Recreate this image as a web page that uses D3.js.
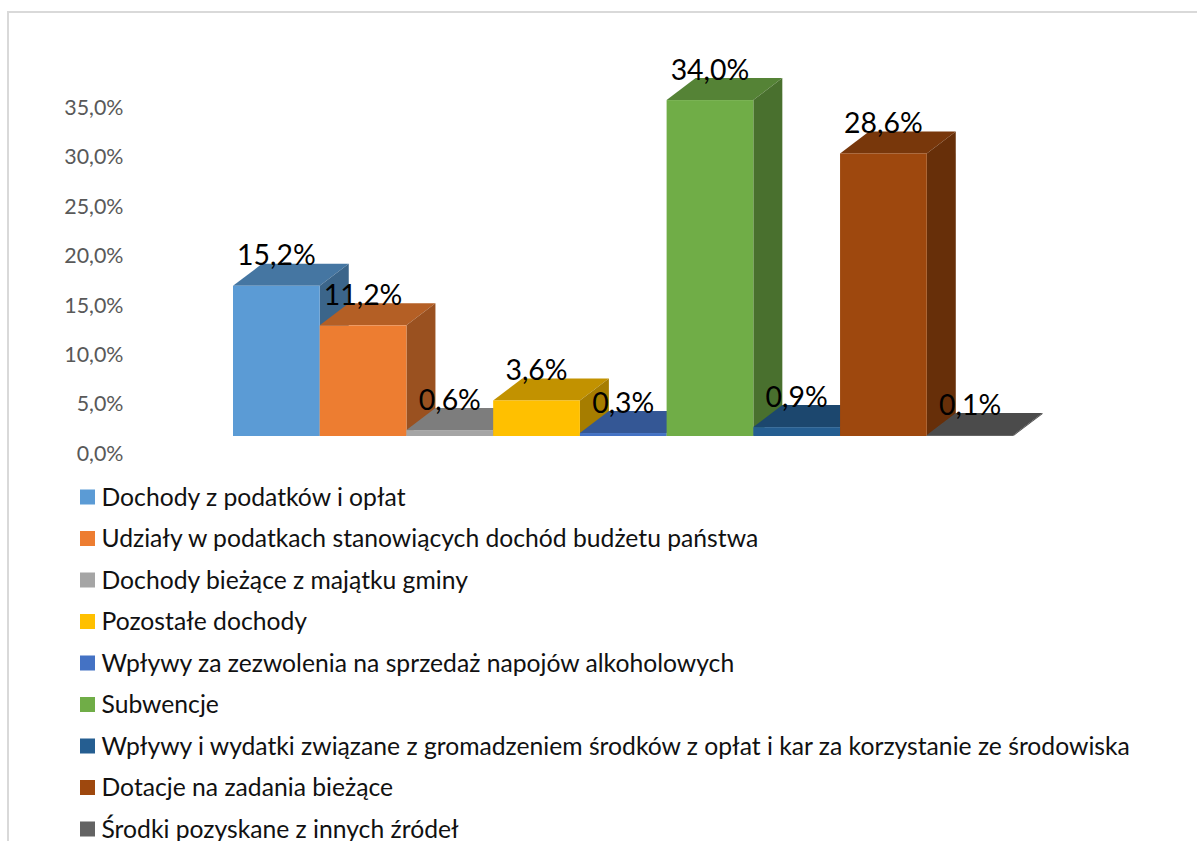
<!DOCTYPE html>
<head>
  <meta charset="utf-8">
  <title>Dochody</title>
  <style>
    html, body { margin: 0; padding: 0; background: #fff; overflow: hidden; }
    svg { display: block; font-family: Lato, sans-serif; }
    .tick text { fill: #595959; font-size: 21.4px; font-family: Lato, sans-serif; }
    .label { fill: #000; font-size: 28.4px; text-anchor: middle; }
    .legend text { fill: #111; font-size: 24.7px; }
  </style>
</head>
<body>
  <div id="chart"></div>
  <script src="https://d3js.org/d3.v7.min.js"></script>
  <script>
    var categories = [
      "Dochody z podatków i opłat",
      "Udziały w podatkach stanowiących dochód budżetu państwa",
      "Dochody bieżące z majątku gminy",
      "Pozostałe dochody",
      "Wpływy za zezwolenia na sprzedaż napojów alkoholowych",
      "Subwencje",
      "Wpływy i wydatki związane z gromadzeniem środków z opłat i kar za korzystanie ze środowiska",
      "Dotacje na zadania bieżące",
      "Środki pozyskane z innych źródeł"
    ];
    var values = [15.2, 11.2, 0.6, 3.6, 0.3, 34.0, 0.9, 28.6, 0.1];
    var colors = ["#5b9bd5", "#ed7d31", "#a5a5a5", "#ffc000", "#4472c4", "#70ad47", "#255e91", "#9e480e", "#636363"];
    var tickValues = [0, 5, 10, 15, 20, 25, 30, 35];
    var tickLabels = ["0,0%", "5,0%", "10,0%", "15,0%", "20,0%", "25,0%", "30,0%", "35,0%"];

    var width = 1197,
        height = 841;

    var depthX = 29,
        depthY = 22;

    var svg = d3.select("#chart")
        .append("svg")
        .attr("width", width)
        .attr("height", height);

    // chart frame, only top and left show in the picture
    svg.append("path")
        .attr("d", "M8,841V12H1197")
        .attr("fill", "none")
        .attr("stroke", "#d9d9d9")
        .attr("stroke-width", 2);

    var x = d3.scaleBand().domain(categories).range([233, 1013.5]);
    var y = d3.scaleLinear().domain([0, 35]).range([436, 90.2]);

    // labels of the axis sit lower than the floor of the bars
    var axis = d3.axisLeft(y)
        .tickValues(tickValues)
        .tickSize(0)
        .tickPadding(0)
        .tickFormat(function(d, i) { return tickLabels[i]; });

    svg.append("g")
        .attr("transform", "translate(123.5,17.5)")
        .call(axis)
        .call(function(g) { g.select(".domain").remove(); });

    function shade(c, k) {
      var r = d3.rgb(c);
      return d3.rgb(r.r * k, r.g * k, r.b * k).formatHex();
    }

    var bars = svg.selectAll(".bar")
        .data(categories)
        .enter().append("g")
        .attr("class", "bar");

    // top
    bars.append("path")
        .attr("fill", function(d, i) { return shade(colors[i], 0.76); })
        .attr("d", function(d, i) {
          var x0 = x(d), x1 = x0 + x.bandwidth(), t = y(values[i]);
          return "M" + x0 + "," + t + "L" + (x0 + depthX) + "," + (t - depthY) +
                 "L" + (x1 + depthX) + "," + (t - depthY) + "L" + x1 + "," + t + "Z";
        });

    // side
    bars.append("path")
        .attr("fill", function(d, i) { return shade(colors[i], 0.65); })
        .attr("d", function(d, i) {
          var x1 = x(d) + x.bandwidth(), t = y(values[i]), b = y(0);
          return "M" + x1 + "," + t + "L" + (x1 + depthX) + "," + (t - depthY) +
                 "L" + (x1 + depthX) + "," + (b - depthY) + "L" + x1 + "," + b + "Z";
        });

    // front
    bars.append("rect")
        .attr("x", function(d) { return x(d); })
        .attr("y", function(d, i) { return y(values[i]); })
        .attr("width", x.bandwidth())
        .attr("height", function(d, i) { return y(0) - y(values[i]); })
        .attr("fill", function(d, i) { return colors[i]; });

    svg.selectAll(".label")
        .data(categories)
        .enter().append("text")
        .attr("class", "label")
        .attr("x", function(d) { return x(d) + x.bandwidth() / 2; })
        .attr("y", function(d, i) { return y(values[i]) - 20.5; })
        .text(function(d, i) { return values[i].toFixed(1).replace(".", ",") + "%"; });

    var legendY = d3.scalePoint().domain(categories).range([497, 829]);

    var legend = svg.selectAll(".legend")
        .data(categories)
        .enter().append("g")
        .attr("class", "legend")
        .attr("transform", function(d) { return "translate(80," + legendY(d) + ")"; });

    legend.append("rect")
        .attr("y", -7.5)
        .attr("width", 15)
        .attr("height", 15)
        .attr("fill", function(d, i) { return colors[i]; });

    legend.append("text")
        .attr("x", 21.5)
        .attr("dy", "0.35em")
        .text(function(d) { return d; });
  </script>
</body>
